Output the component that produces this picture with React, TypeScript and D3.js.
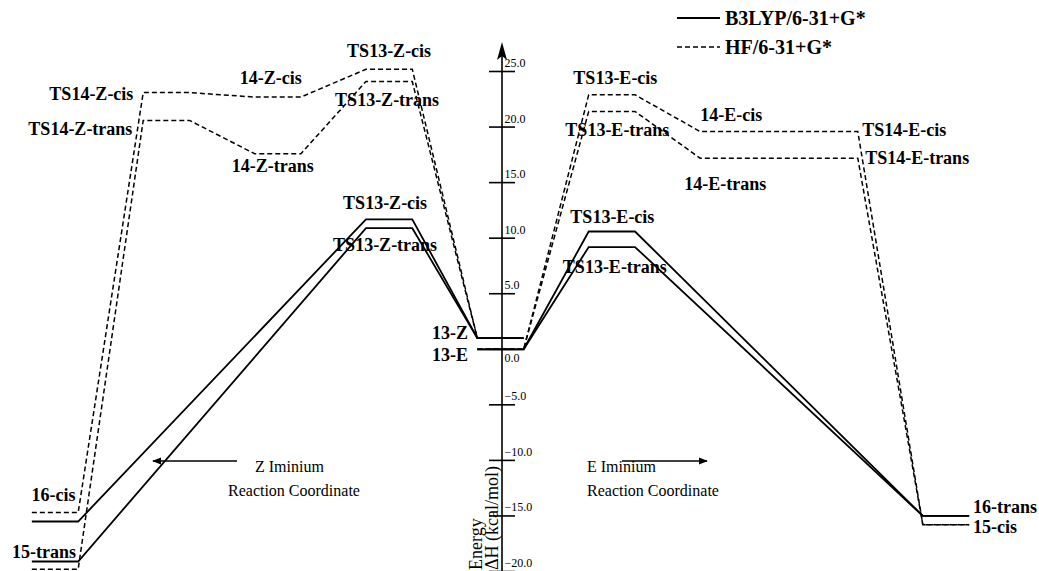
import React from 'react';
import * as d3 from 'd3';

// reaction coordinate stage of each point in a pathway (0 = far left products ... 8 = far right products)
const zStagesB3 = [0, 3, 4];
const eStagesB3 = [4, 5, 8];
const zStagesHF = [0, 1, 2, 3, 4];
const eStagesHF = [4, 5, 6, 7, 8];

// B3LYP/6-31+G* enthalpies (kcal/mol)
const b3Zcis = [-15.5, 11.7, 1.0];
const b3Ztrans = [-19.1, 10.9, 1.0];
const b3Ecis = [0.0, 10.6, -15.0];
const b3Etrans = [0.0, 9.2, -15.0];

// HF/6-31+G* enthalpies (kcal/mol)
const hfZcis = [-14.7, 23.1, 22.7, 25.2, 1.0];
const hfZtrans = [-19.8, 20.6, 17.6, 24.1, 1.0];
const hfEcis = [0.0, 22.9, 19.6, 19.6, -15.8];
const hfEtrans = [0.0, 21.4, 17.2, 17.2, -15.8];

const tickValues = [-20, -15, -10, -5, 0, 5, 10, 15, 20, 25];

const legendNames = ['B3LYP/6-31+G*', 'HF/6-31+G*'];

// label text, stage and the energy it belongs to
const labels = [
  { text: 'TS14-Z-cis', stage: 1, value: hfZcis[1] },
  { text: 'TS14-Z-trans', stage: 1, value: hfZtrans[1] },
  { text: '14-Z-cis', stage: 2, value: hfZcis[2] },
  { text: 'TS13-Z-cis', stage: 3, value: hfZcis[3] },
  { text: 'TS13-Z-trans', stage: 3, value: hfZtrans[3] },
  { text: '14-Z-trans', stage: 2, value: hfZtrans[2] },
  { text: 'TS13-Z-cis', stage: 3, value: b3Zcis[1] },
  { text: 'TS13-Z-trans', stage: 3, value: b3Ztrans[1] },
  { text: '16-cis', stage: 0, value: hfZcis[0] },
  { text: '15-trans', stage: 0, value: b3Ztrans[0] },
  { text: '13-Z', stage: 4, value: b3Zcis[2] },
  { text: '13-E', stage: 4, value: b3Ecis[0] },
  { text: 'TS13-E-cis', stage: 5, value: hfEcis[1] },
  { text: 'TS13-E-trans', stage: 5, value: hfEtrans[1] },
  { text: '14-E-cis', stage: 6, value: hfEcis[2] },
  { text: '14-E-trans', stage: 6, value: hfEtrans[2] },
  { text: 'TS14-E-cis', stage: 7, value: hfEcis[3] },
  { text: 'TS14-E-trans', stage: 7, value: hfEtrans[3] },
  { text: 'TS13-E-cis', stage: 5, value: b3Ecis[1] },
  { text: 'TS13-E-trans', stage: 5, value: b3Etrans[1] },
  { text: '16-trans', stage: 8, value: b3Ecis[2] },
  { text: '15-cis', stage: 8, value: hfEcis[4] },
];

// placement of each label relative to its level (same order as labels)
const labelLayout = [
  { anchor: 'end', dx: -33, dy: 7.5 },
  { anchor: 'end', dx: -34, dy: 14.5 },
  { anchor: 'middle', dx: -7, dy: -13 },
  { anchor: 'middle', dx: 0, dy: -12 },
  { anchor: 'middle', dx: -2, dy: 24.5 },
  { anchor: 'middle', dx: -5, dy: 18 },
  { anchor: 'middle', dx: -4, dy: -10 },
  { anchor: 'middle', dx: -4, dy: 23 },
  { anchor: 'middle', dx: -1.5, dy: -11.5 },
  { anchor: 'end', dx: 21, dy: -3.5 },
  { anchor: 'end', dx: -32.5, dy: 1 },
  { anchor: 'end', dx: -32.5, dy: 12 },
  { anchor: 'middle', dx: 3.5, dy: -11 },
  { anchor: 'middle', dx: 5.5, dy: 24.5 },
  { anchor: 'start', dx: -23, dy: -10.5 },
  { anchor: 'middle', dx: 2, dy: 32 },
  { anchor: 'start', dx: 27.5, dy: 4.5 },
  { anchor: 'start', dx: 30.5, dy: 6 },
  { anchor: 'middle', dx: 0.5, dy: -8.5 },
  { anchor: 'middle', dx: 3, dy: 26 },
  { anchor: 'start', dx: 27, dy: -3 },
  { anchor: 'start', dx: 27, dy: 8 },
];

const W = 1039;
const H = 571;
const serif = '"Liberation Serif", "Times New Roman", serif';

const x = d3.scaleLinear().domain([0, 8]).range([55, 946]);
const y = d3.scaleLinear().domain([-20, 25]).range([571.5, 71.5]);
const half = 0.208; // half width of a level, in stage units
const axisX = x(4) + 1.5;

const pathFor = (stages: number[], values: number[]) => {
  const pts: [number, number][] = [];
  stages.forEach((s, i) => {
    pts.push([x(s - half), y(values[i])]);
    pts.push([x(s + half), y(values[i])]);
  });
  return d3.line()(pts) || '';
};

const App = () => {
  const dashed = [
    pathFor(zStagesHF, hfZcis),
    pathFor(zStagesHF, hfZtrans),
    pathFor(eStagesHF, hfEcis),
    pathFor(eStagesHF, hfEtrans),
  ];
  const solid = [
    pathFor(zStagesB3, b3Zcis),
    pathFor(zStagesB3, b3Ztrans),
    pathFor(eStagesB3, b3Ecis),
    pathFor(eStagesB3, b3Etrans),
  ];

  return (
    <div style={{ position: 'absolute', left: 0, top: 0 }}>
      <svg width={W} height={H} style={{ display: 'block', background: '#fff' }}>
        {/* energy axis */}
        <line x1={axisX} x2={axisX} y1={48} y2={H} stroke="#000" strokeWidth={1.6} />
        <path
          d={`M${axisX},42 L${axisX - 5},60 L${axisX},56 L${axisX + 5},60 Z`}
          fill="#000"
        />
        {tickValues.map((t) => (
          <g key={t}>
            <line x1={axisX - 13} x2={axisX + 13} y1={y(t)} y2={y(t)} stroke="#000" strokeWidth={1.6} />
            <text
              x={axisX + 2.5}
              y={t === 0 ? y(t) + 13 : y(t) - 4.5}
              fontFamily={serif}
              fontSize={12}
            >
              {d3.format('.1f')(t)}
            </text>
          </g>
        ))}
        <text transform={`translate(${axisX - 20},${H - 1}) rotate(-90)`} fontFamily={serif} fontSize={18}>
          Energy
        </text>
        <text transform={`translate(${axisX - 4},${H - 1}) rotate(-90)`} fontFamily={serif} fontSize={18}>
          ΔH (kcal/mol)
        </text>

        {/* pathways */}
        {dashed.map((d, i) => (
          <path key={'d' + i} d={d} fill="none" stroke="#000" strokeWidth={1.5} strokeDasharray="5,3" />
        ))}
        {solid.map((d, i) => (
          <path key={'s' + i} d={d} fill="none" stroke="#000" strokeWidth={1.8} />
        ))}

        {/* level labels */}
        {labels.map((l, i) => (
          <text
            key={'l' + i}
            x={x(l.stage) + labelLayout[i].dx}
            y={y(l.value) + labelLayout[i].dy}
            textAnchor={labelLayout[i].anchor}
            fontFamily={serif}
            fontWeight="bold"
            fontSize={18}
          >
            {l.text}
          </text>
        ))}

        {/* legend */}
        {legendNames.map((name, i) => (
          <g key={name} transform={`translate(677,${18 + i * 29})`}>
            <line x1={0} x2={43} y1={0} y2={0} stroke="#000" strokeWidth={i === 0 ? 2 : 1.6} strokeDasharray={i === 0 ? undefined : '5,3'} />
            <text x={48} y={7} fontFamily={serif} fontWeight="bold" fontSize={20}>
              {name}
            </text>
          </g>
        ))}

        {/* direction notes */}
        <defs>
          <marker id="ah" viewBox="0 0 10 10" refX={9} refY={5} markerWidth={9} markerHeight={9} orient="auto-start-reverse" markerUnits="userSpaceOnUse">
            <path d="M0,1 L10,5 L0,9 Z" fill="#000" />
          </marker>
        </defs>
        <line x1={153} x2={237} y1={461} y2={461} stroke="#000" strokeWidth={1.6} markerStart="url(#ah)" />
        <text x={255} y={472} fontFamily={serif} fontSize={16}>Z Iminium</text>
        <text x={228} y={496} fontFamily={serif} fontSize={16}>Reaction Coordinate</text>
        <line x1={622} x2={707} y1={461} y2={461} stroke="#000" strokeWidth={1.6} markerEnd="url(#ah)" />
        <text x={587} y={472} fontFamily={serif} fontSize={16}>E Iminium</text>
        <text x={587} y={496} fontFamily={serif} fontSize={16}>Reaction Coordinate</text>
      </svg>
    </div>
  );
};

export default App;
